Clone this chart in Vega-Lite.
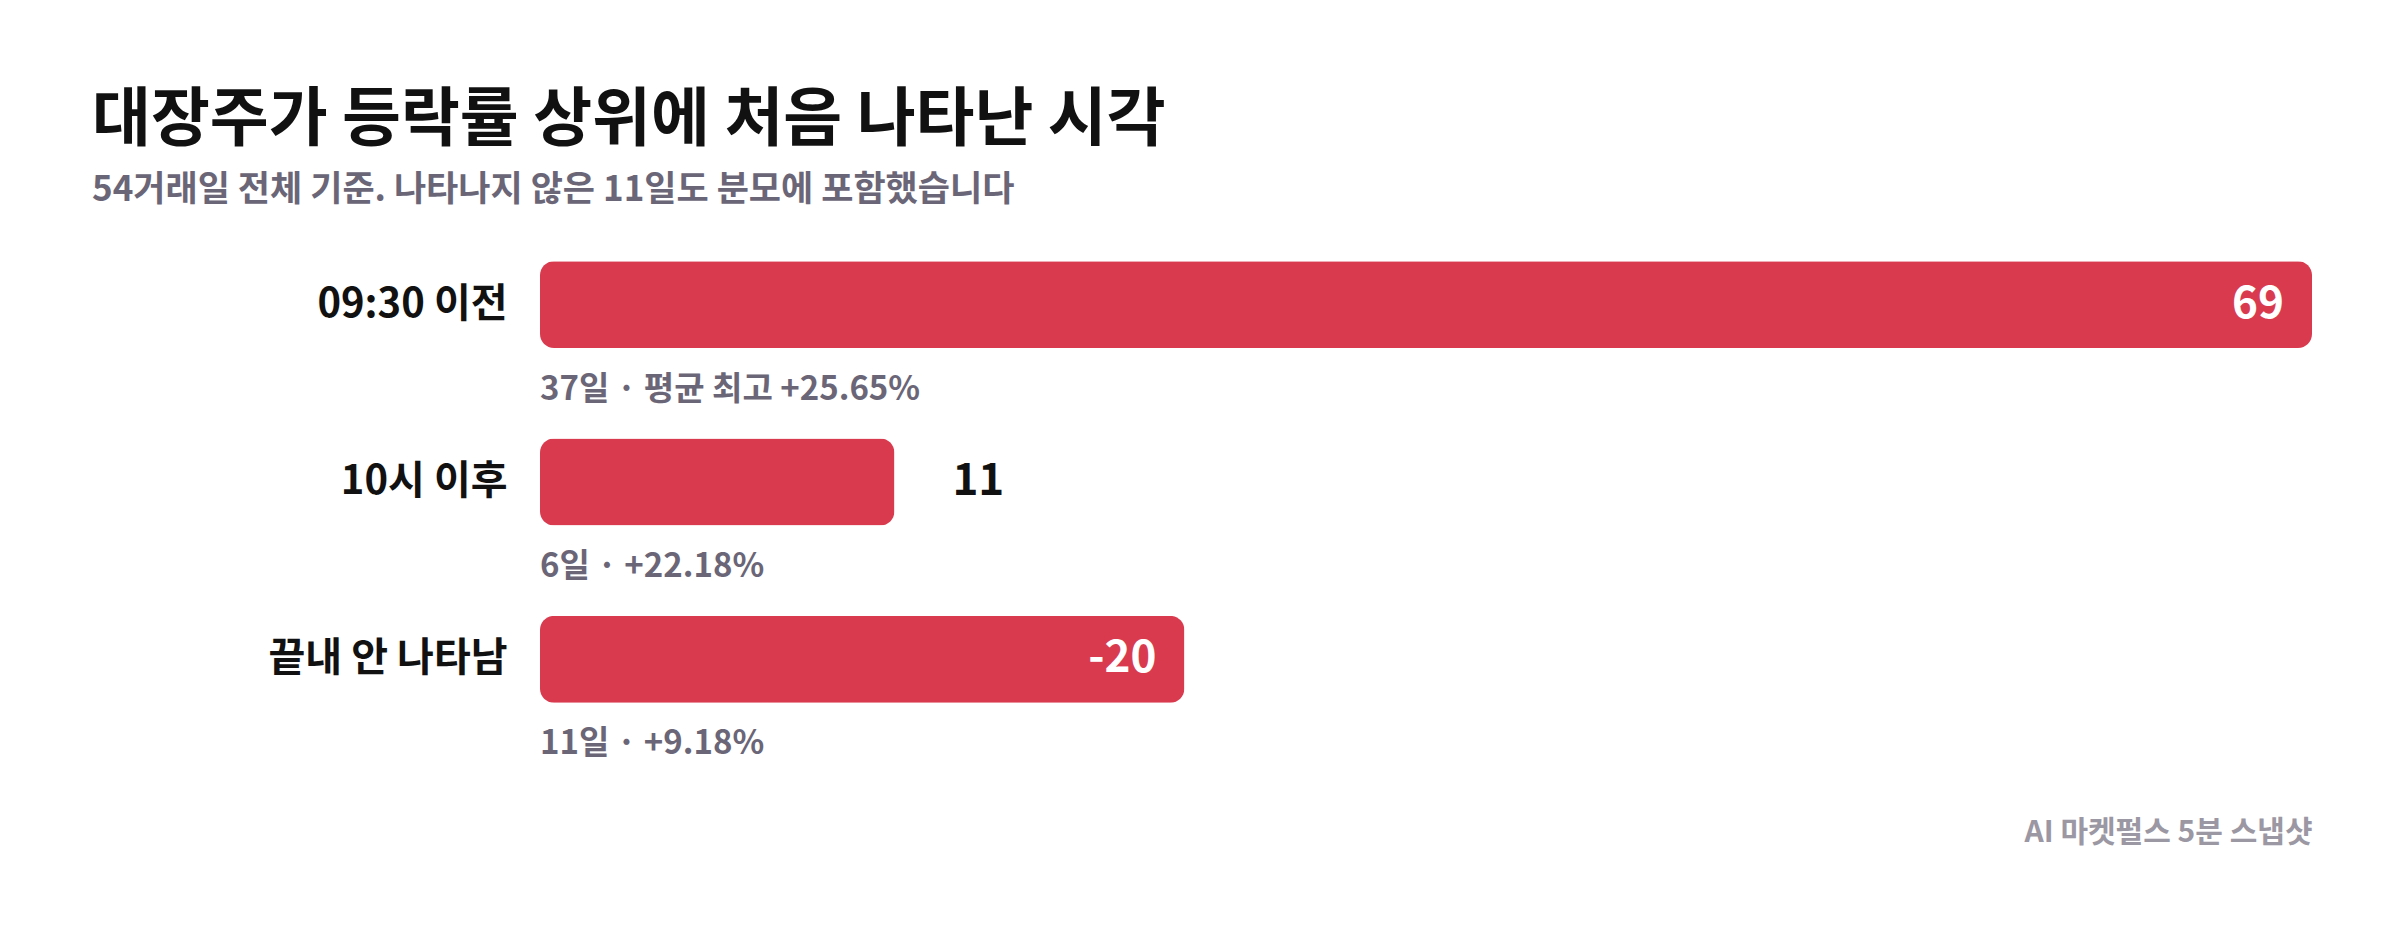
{
  "$schema": "https://vega.github.io/schema/vega-lite/v6.json",
  "description": "대장주가 등락률 상위에 처음 나타난 시각 - 가로 막대",
  "width": 1772,
  "height": 532,
  "autosize": {"type": "none"},
  "padding": {"left": 540, "top": 216, "right": 88, "bottom": 182},
  "background": "#ffffff",
  "title": {
    "text": "대장주가 등락률 상위에 처음 나타난 시각",
    "subtitle": "54거래일 전체 기준. 나타나지 않은 11일도 분모에 포함했습니다",
    "anchor": "start",
    "frame": "group",
    "dx": -448,
    "offset": 8,
    "font": "Noto Sans CJK KR",
    "fontSize": 64,
    "fontWeight": "bold",
    "color": "#111111",
    "subtitleFont": "Noto Sans CJK KR",
    "subtitleFontSize": 35,
    "subtitleFontWeight": "bold",
    "subtitleColor": "#6b6677",
    "subtitlePadding": 20
  },
  "data": {
    "values": [
      {"group": "09:30 이전", "share": 69, "label": "69", "note": "37일 · 평균 최고 +25.65%"},
      {"group": "10시 이후", "share": 11, "label": "11", "note": "6일 · +22.18%"},
      {"group": "끝내 안 나타남", "share": 20, "label": "-20", "note": "11일 · +9.18%"}
    ]
  },
  "encoding": {
    "y": {
      "field": "group",
      "type": "nominal",
      "sort": null,
      "scale": {"paddingInner": 0.51, "paddingOuter": 0.255},
      "axis": {
        "title": null,
        "domain": false,
        "ticks": false,
        "grid": false,
        "labelPadding": 33,
        "labelLimit": 0,
        "labelFont": "Noto Sans CJK KR",
        "labelFontSize": 40,
        "labelFontWeight": "bold",
        "labelColor": "#111111"
      }
    }
  },
  "layer": [
    {
      "mark": {"type": "bar", "color": "#d93a4e", "cornerRadius": 14},
      "encoding": {
        "x": {
          "field": "share",
          "type": "quantitative",
          "scale": {"domain": [0, 55], "clamp": true, "nice": false},
          "axis": {
            "title": "AI 마켓펄스 5분 스냅샷",
            "titleAnchor": "end",
            "titleFont": "Noto Sans CJK KR",
            "titleFontSize": 30,
            "titleFontWeight": "bold",
            "titleColor": "#9b97a3",
            "titlePadding": 69,
            "labels": false,
            "ticks": false,
            "domain": false,
            "grid": false
          }
        }
      }
    },
    {
      "transform": [{"filter": "datum.share >= 15"}],
      "mark": {
        "type": "text",
        "align": "right",
        "baseline": "middle",
        "dx": -28,
        "font": "Noto Sans CJK KR",
        "fontSize": 44,
        "fontWeight": "bold",
        "color": "#ffffff"
      },
      "encoding": {
        "x": {"field": "share", "type": "quantitative"},
        "text": {"field": "label"}
      }
    },
    {
      "transform": [{"filter": "datum.share < 15"}],
      "mark": {
        "type": "text",
        "align": "left",
        "baseline": "middle",
        "dx": 58,
        "font": "Noto Sans CJK KR",
        "fontSize": 44,
        "fontWeight": "bold",
        "color": "#111111"
      },
      "encoding": {
        "x": {"field": "share", "type": "quantitative"},
        "text": {"field": "label"}
      }
    },
    {
      "mark": {
        "type": "text",
        "align": "left",
        "baseline": "middle",
        "dy": 85,
        "font": "Noto Sans CJK KR",
        "fontSize": 33,
        "fontWeight": "bold",
        "color": "#6b6677"
      },
      "encoding": {
        "x": {"datum": 0, "type": "quantitative"},
        "text": {"field": "note"}
      }
    }
  ],
  "config": {
    "view": {"stroke": null}
  }
}
